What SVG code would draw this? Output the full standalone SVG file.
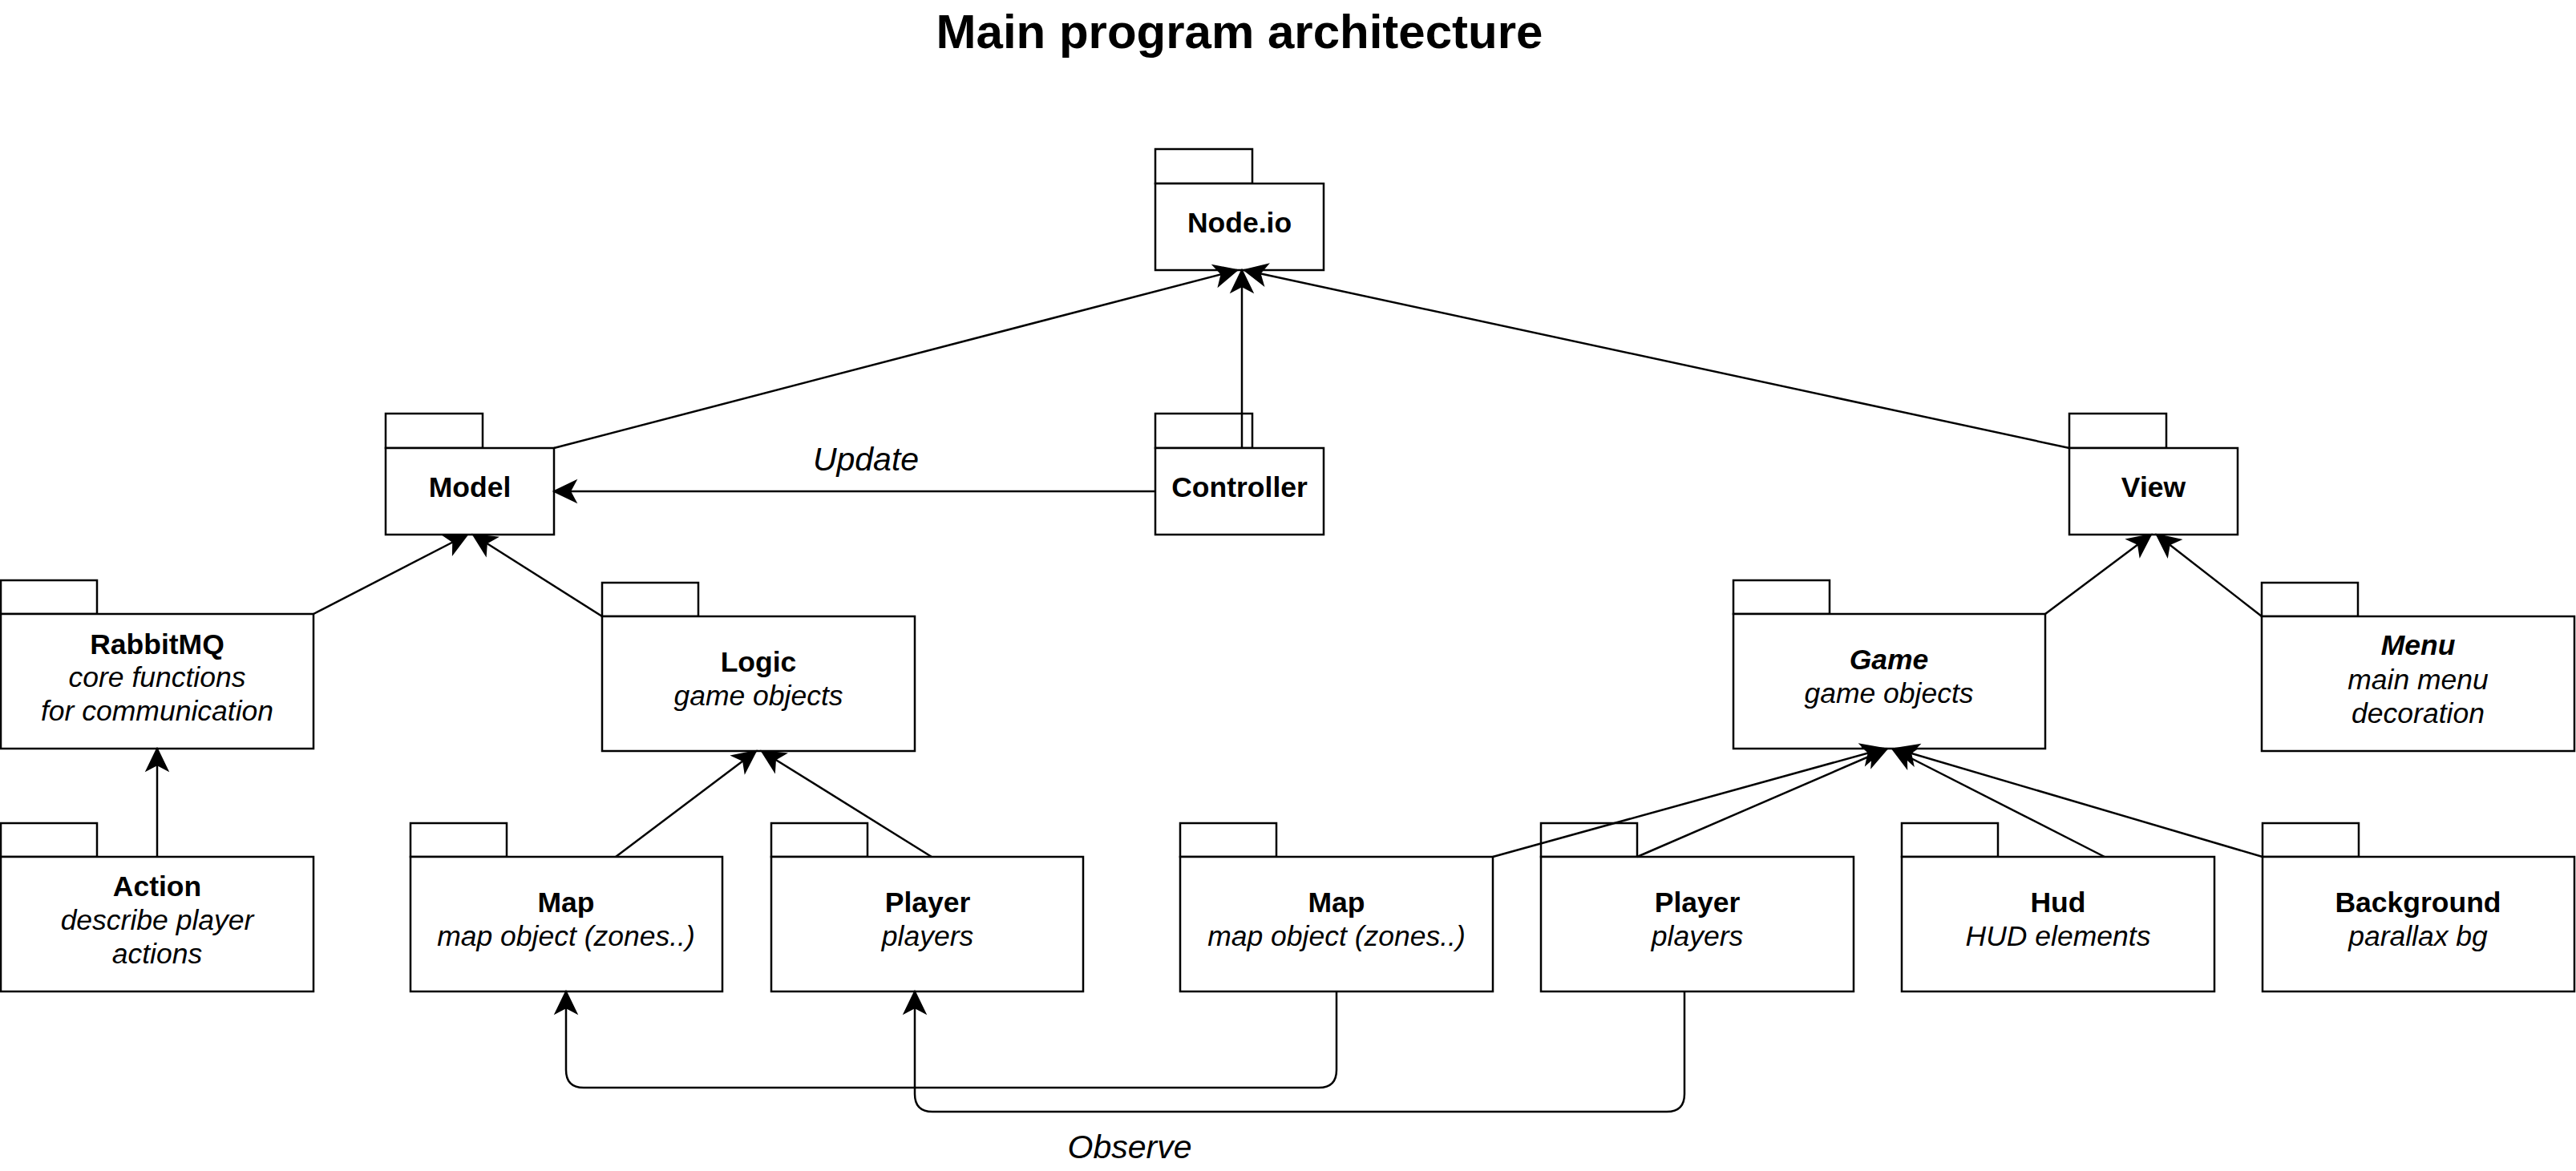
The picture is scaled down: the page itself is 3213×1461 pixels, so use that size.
<svg xmlns="http://www.w3.org/2000/svg" width="3213" height="1461" viewBox="0 0 3213 1461">
<style>
.pkg rect{fill:#fff;stroke:#000;stroke-width:2.5}
text{font-family:"Liberation Sans",Arial,sans-serif;fill:#000;text-anchor:middle}
.t{font-size:35.5px}
.b{font-weight:bold}
.i{font-style:italic}
.title{font-size:60px;font-weight:bold}
.lbl{font-size:41px;font-style:italic}
.e{fill:none;stroke:#000;stroke-width:2.5}
</style>
<defs>
<marker id="arr" markerUnits="userSpaceOnUse" viewBox="-30 -16 32 32" refX="0" refY="0" markerWidth="32" markerHeight="32" orient="auto" overflow="visible">
<path d="M0,0 L-27,-13 L-20,0 L-27,13 Z" fill="#000" stroke="#000" stroke-width="2"/>
</marker>
</defs>
<rect width="3213" height="1461" fill="#fff"/>
<text class="title" x="1546" y="60">Main program architecture</text>

<g id="node-nodeio" class="pkg"><rect x="1441" y="186" width="121" height="43"/><rect x="1441" y="229" width="210" height="108"/><text class="t b" x="1546" y="290">Node.io</text></g>
<g id="node-model" class="pkg"><rect x="481" y="516" width="121" height="43"/><rect x="481" y="559" width="210" height="108"/><text class="t b" x="586" y="620">Model</text></g>
<g id="node-controller" class="pkg"><rect x="1441" y="516" width="121" height="43"/><rect x="1441" y="559" width="210" height="108"/><text class="t b" x="1546" y="620">Controller</text></g>
<g id="node-view" class="pkg"><rect x="2581" y="516" width="121" height="43"/><rect x="2581" y="559" width="210" height="108"/><text class="t b" x="2686" y="620">View</text></g>

<g id="node-rabbitmq" class="pkg"><rect x="1" y="724" width="120" height="42"/><rect x="1" y="766" width="390" height="168"/><text class="t b" x="196" y="816">RabbitMQ</text><text class="t i" x="196" y="857">core functions</text><text class="t i" x="196" y="899">for communication</text></g>
<g id="node-logic" class="pkg"><rect x="751" y="727" width="120" height="42"/><rect x="751" y="769" width="390" height="168"/><text class="t b" x="946" y="838">Logic</text><text class="t i" x="946" y="880">game objects</text></g>
<g id="node-game" class="pkg"><rect x="2162" y="724" width="120" height="42"/><rect x="2162" y="766" width="389" height="168"/><text class="t b i" x="2356" y="835">Game</text><text class="t i" x="2356" y="877">game objects</text></g>
<g id="node-menu" class="pkg"><rect x="2821" y="727" width="120" height="42"/><rect x="2821" y="769" width="390" height="168"/><text class="t b i" x="3016" y="817">Menu</text><text class="t i" x="3016" y="860">main menu</text><text class="t i" x="3016" y="902"> decoration</text></g>

<g id="node-action" class="pkg"><rect x="1" y="1027" width="120" height="42"/><rect x="1" y="1069" width="390" height="168"/><text class="t b" x="196" y="1118">Action</text><text class="t i" x="196" y="1160">describe player</text><text class="t i" x="196" y="1202">actions</text></g>
<g id="node-map-logic" class="pkg"><rect x="512" y="1027" width="120" height="42"/><rect x="512" y="1069" width="389" height="168"/><text class="t b" x="706" y="1138">Map</text><text class="t i" x="706" y="1180">map object (zones..)</text></g>
<g id="node-player-logic" class="pkg"><rect x="962" y="1027" width="120" height="42"/><rect x="962" y="1069" width="389" height="168"/><text class="t b" x="1157" y="1138">Player</text><text class="t i" x="1157" y="1180">players</text></g>
<g id="node-map-game" class="pkg"><rect x="1472" y="1027" width="120" height="42"/><rect x="1472" y="1069" width="390" height="168"/><text class="t b" x="1667" y="1138">Map</text><text class="t i" x="1667" y="1180">map object (zones..)</text></g>
<g id="node-player-game" class="pkg"><rect x="1922" y="1027" width="120" height="42"/><rect x="1922" y="1069" width="390" height="168"/><text class="t b" x="2117" y="1138">Player</text><text class="t i" x="2117" y="1180">players</text></g>
<g id="node-hud" class="pkg"><rect x="2372" y="1027" width="120" height="42"/><rect x="2372" y="1069" width="390" height="168"/><text class="t b" x="2567" y="1138">Hud</text><text class="t i" x="2567" y="1180">HUD elements</text></g>
<g id="node-background" class="pkg"><rect x="2822" y="1027" width="120" height="42"/><rect x="2822" y="1069" width="389" height="168"/><text class="t b" x="3016" y="1138">Background</text><text class="t i" x="3016" y="1180">parallax bg</text></g>

<g id="connectors">
<path class="e" marker-end="url(#arr)" d="M691,559 L1543,337"/>
<path class="e" marker-end="url(#arr)" d="M1549,559 L1549,337"/>
<path class="e" marker-end="url(#arr)" d="M2581,559 L1552,337"/>
<path class="e" marker-end="url(#arr)" d="M1441,613 L691,613"/>
<path class="e" marker-end="url(#arr)" d="M391,766 L583,667"/>
<path class="e" marker-end="url(#arr)" d="M751,769 L590,667"/>
<path class="e" marker-end="url(#arr)" d="M196,1069 L196,934"/>
<path class="e" marker-end="url(#arr)" d="M768,1069 L943,937"/>
<path class="e" marker-end="url(#arr)" d="M1162,1069 L950,937"/>
<path class="e" marker-end="url(#arr)" d="M2551,766 L2683,667"/>
<path class="e" marker-end="url(#arr)" d="M2821,769 L2690,667"/>
<path class="e" marker-end="url(#arr)" d="M1862,1069 L2350,934"/>
<path class="e" marker-end="url(#arr)" d="M2042,1069 L2354,934"/>
<path class="e" marker-end="url(#arr)" d="M2625,1069 L2360,934"/>
<path class="e" marker-end="url(#arr)" d="M2822,1069 L2364,934"/>
<path class="e" marker-end="url(#arr)" d="M1667,1237 L1667,1335 Q1667,1357 1645,1357 L728,1357 Q706,1357 706,1335 L706,1237"/>
<path class="e" marker-end="url(#arr)" d="M2101,1237 L2101,1365 Q2101,1387 2079,1387 L1163,1387 Q1141,1387 1141,1365 L1141,1237"/>
<text class="lbl" x="1080" y="587">Update</text>
<text class="lbl" x="1409" y="1445">Observe</text>
</g>
</svg>
